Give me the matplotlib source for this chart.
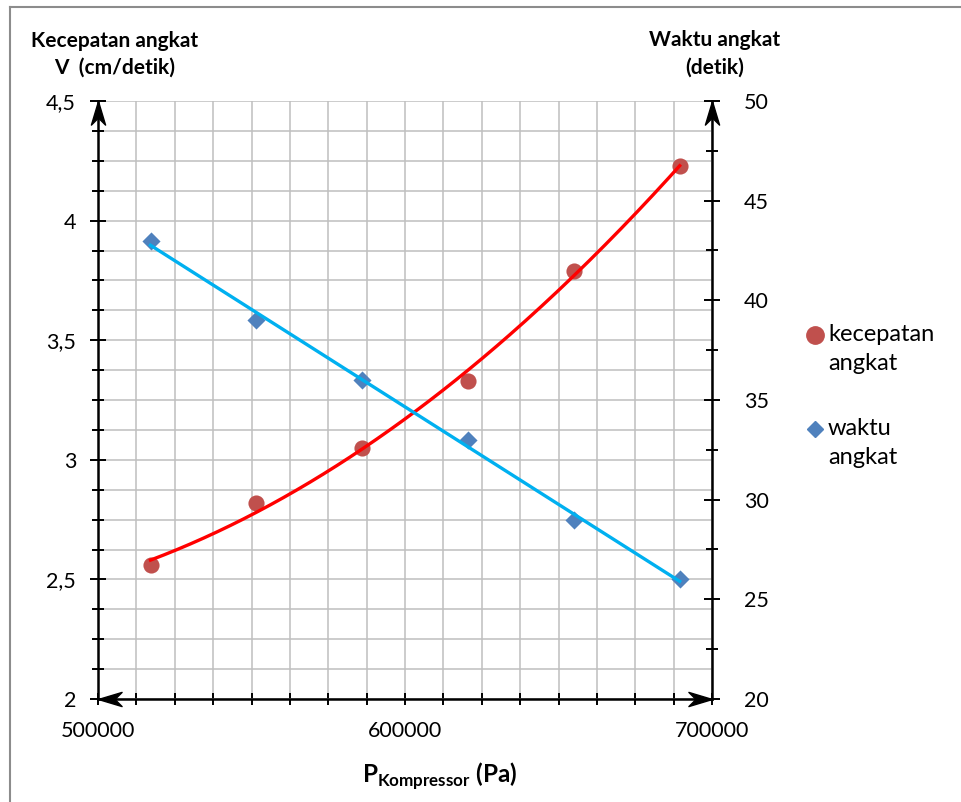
import matplotlib
matplotlib.use("Agg")
import matplotlib.pyplot as plt
import matplotlib.ticker as ticker
from matplotlib.lines import Line2D
from matplotlib.path import Path
import numpy as np

plt.rcParams["font.family"] = ["Lato", "DejaVu Sans"]
plt.rcParams["mathtext.fontset"] = "custom"
plt.rcParams["mathtext.rm"] = "Lato"
plt.rcParams["mathtext.bf"] = "Lato:bold"

# ── Data ──────────────────────────────────────────────────────────────────────
tekanan   = [517107, 551581, 586055, 620528, 655002, 689476]   # Pa
kecepatan = [2.56, 2.82, 3.05, 3.33, 3.79, 4.23]               # cm/detik
waktu     = [43, 39, 36, 33, 29, 26]                           # detik
seri      = ["kecepatan\nangkat", "waktu\nangkat"]

RED_PT   = "#C0504D"
RED_LN   = "#FF0000"
BLUE_PT  = "#4F81BD"
BLUE_LN  = "#00B0F0"
GRID     = "#BFBFBF"

W, H = 961, 802


def px(x, y):
    """pixel coords (top-left origin) -> figure fraction"""
    return x / W, 1 - y / H


# arrow heads (tip at origin)
ARROW_UP    = Path([(0, 0), (-0.3, -1), (0, -0.7), (0.3, -1), (0, 0)],
                   [1, 2, 2, 2, 79])
ARROW_LEFT  = Path([(0, 0), (1, 0.3), (0.7, 0), (1, -0.3), (0, 0)],
                   [1, 2, 2, 2, 79])
ARROW_RIGHT = Path([(0, 0), (-1, 0.3), (-0.7, 0), (-1, -0.3), (0, 0)],
                   [1, 2, 2, 2, 79])

fig = plt.figure(figsize=(W / 100, H / 100), dpi=100, facecolor="white")
ax = fig.add_axes([98 / W, 1 - 699 / H, 614 / W, 598 / H])
ax2 = ax.twinx()

# ── Axes setup ────────────────────────────────────────────────────────────────
ax.set_xlim(500000, 700000)
ax.set_ylim(2, 4.5)
ax2.set_ylim(20, 50)

ax.xaxis.set_major_locator(ticker.MultipleLocator(100000))
ax.xaxis.set_minor_locator(ticker.MultipleLocator(12500))
ax.xaxis.set_major_formatter(ticker.FuncFormatter(lambda v, p: f"{v:.0f}"))
ax.yaxis.set_major_locator(ticker.MultipleLocator(0.5))
ax.yaxis.set_minor_locator(ticker.MultipleLocator(0.125))
ax.yaxis.set_major_formatter(
    ticker.FuncFormatter(lambda v, p: f"{v:g}".replace(".", ",")))
ax2.yaxis.set_major_locator(ticker.MultipleLocator(5))
ax2.yaxis.set_minor_locator(ticker.MultipleLocator(2.5))

ax.grid(which="both", color=GRID, linewidth=1.1, zorder=0)
ax.set_axisbelow(True)

for a in (ax, ax2):
    for s in a.spines.values():
        s.set_visible(False)
ax.spines["left"].set_visible(True)
ax.spines["bottom"].set_visible(True)
ax2.spines["right"].set_visible(True)
for s in (ax.spines["left"], ax.spines["bottom"], ax2.spines["right"]):
    s.set_color("black")
    s.set_linewidth(1.8)

ax.tick_params(axis="x", which="major", direction="inout", length=8,
               width=1.4, pad=12, labelsize=15.5)
ax.tick_params(axis="x", which="minor", direction="inout", length=8,
               width=1.4)
ax.tick_params(axis="y", which="major", direction="inout", length=11.5,
               width=1.4, pad=10, labelsize=15.5)
ax.tick_params(axis="y", which="minor", direction="inout", length=8.6,
               width=1.4)
ax2.tick_params(axis="y", which="major", direction="inout", length=12,
                width=1.4, pad=17, labelsize=15.5)
ax2.tick_params(axis="y", which="minor", direction="inout", length=8.6,
                width=1.4)

# ── Series ────────────────────────────────────────────────────────────────────
ax.scatter(tekanan, kecepatan, s=135, color=RED_PT, zorder=3,
           linewidths=0)
xs = np.linspace(min(tekanan), max(tekanan), 200)
c_v = np.polyfit(np.array(tekanan) / 1e5, kecepatan, 2)
ax.plot(xs, np.polyval(c_v, xs / 1e5), color=RED_LN, lw=2.4, zorder=4)

ax2.scatter(tekanan, waktu, s=85, marker="D", color=BLUE_PT, zorder=3,
            linewidths=0)
c_t = np.polyfit(tekanan, waktu, 1)
ax2.plot(xs, np.polyval(c_t, xs), color=BLUE_LN, lw=2.4, zorder=4)

# axis arrowheads
arrow_kw = dict(color="black", markersize=34, clip_on=False, zorder=10,
                linestyle="none")
ax.plot(500000, 4.5, marker=ARROW_UP, **arrow_kw)
ax.plot(700000, 4.5, marker=ARROW_UP, **arrow_kw)
ax.plot(500000, 2, marker=ARROW_LEFT, **arrow_kw)
ax.plot(700000, 2, marker=ARROW_RIGHT, **arrow_kw)

# ── Titles / labels ───────────────────────────────────────────────────────────
title_kw = dict(ha="center", va="center", fontsize=15, fontweight="bold")
fig.text(*px(115, 41), "Kecepatan angkat", **title_kw)
fig.text(*px(115, 68), "V  (cm/detik)", **title_kw)
fig.text(*px(715, 40), "Waktu angkat", **title_kw)
fig.text(*px(715, 68), "(detik)", **title_kw)
fig.text(*px(440, 776), r"$\mathbf{P}_{\mathbf{Kompressor}}$ (Pa)",
         ha="center", va="center", fontsize=17.5, fontweight="bold")

# ── Legend (marker aligned with first line, like the original) ────────────────
leg_marker = [("o", RED_PT, 12.5), ("D", BLUE_PT, 8.5)]
for (mk, col, ms), lab, y in zip(leg_marker, seri, (335, 429)):
    fig.add_artist(Line2D([815 / W], [1 - y / H], marker=mk, color=col,
                          markersize=ms, linestyle="none",
                          transform=fig.transFigure))
    fig.text(*px(828, y - 11), lab, ha="left", va="top", fontsize=17,
             linespacing=1.45)

# outer frame (partly cropped in the original screenshot)
fig.add_artist(Line2D([10 / W, 10 / W], [0, 1 - 7 / H], color="#8C8C8C",
                      lw=1.5, transform=fig.transFigure))
fig.add_artist(Line2D([10 / W, 1], [1 - 7 / H, 1 - 7 / H], color="#8C8C8C",
                      lw=1.5, transform=fig.transFigure))

plt.savefig("out.png", dpi=100, facecolor="white")
